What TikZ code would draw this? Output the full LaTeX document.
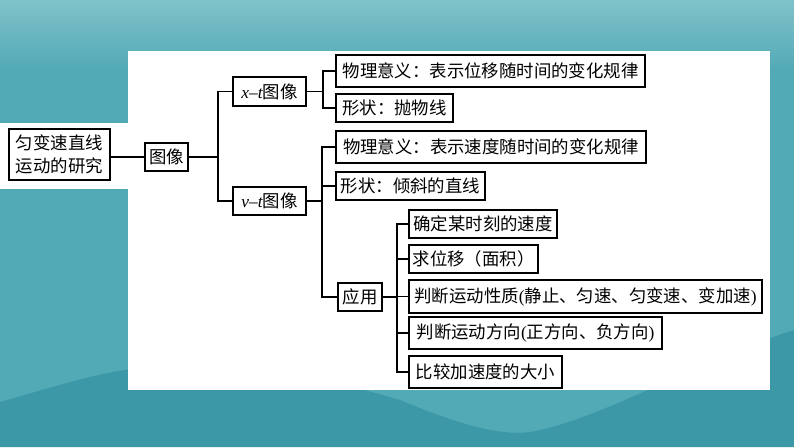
\documentclass[tikz,border=0pt]{standalone}
\usepackage{fontspec}
\setmainfont{Noto Sans CJK SC}
\newfontfamily\lat{Liberation Serif}
\usetikzlibrary{shadows}
\definecolor{bgtop}{HTML}{80C2CA}
\definecolor{bgmid}{HTML}{52AAB6}
\definecolor{bgdark}{HTML}{3C98A6}
\newcommand\cjkfs{\fontsize{17.4}{22.5}\selectfont}
\begin{document}
\begin{tikzpicture}[x=1pt,y=-1pt,
  bx/.style={draw=black, line width=1.1pt, fill=white, inner sep=0pt, font=\cjkfs,
    drop shadow={shadow xshift=1.2pt, shadow yshift=-1.2pt, fill=black!40, opacity=1}},
  ln/.style={line width=1.4pt, draw=black}]
\useasboundingbox (0,0) rectangle (794,447);
% background
\fill[bgmid] (0,0) rectangle (794,447);
\shade[top color=bgtop, bottom color=bgmid] (0,0) rectangle (794,70);
\fill[bgdark] (0,402) .. controls (60,385) and (100,372) .. (140,368)
  .. controls (260,360) and (330,380) .. (400,400)
  .. controls (460,425) and (500,436) .. (530,432)
  .. controls (600,420) and (700,360) .. (794,330) -- (794,447) -- (0,447) -- cycle;
% white panel
\fill[white] (128,51) rectangle (770,390);
\fill[white] (0,123) rectangle (128,189);
% nodes
\node[bx, minimum width=101pt, minimum height=51pt, align=center] (b0) at (59.5,154.5) {匀变速直线\\运动的研究};
\node[bx, minimum width=43pt, minimum height=28pt] (tu) at (166.5,157) {图像};
\node[bx, minimum width=73pt, minimum height=29pt] (xt) at (269.5,91.5) {{\lat\itshape x}{\lat –}{\lat\itshape t}图像};
\node[bx, minimum width=73pt, minimum height=28pt] (vt) at (269.5,201) {{\lat\itshape v}{\lat –}{\lat\itshape t}图像};
\node[bx, minimum width=309pt, minimum height=32pt] (x1) at (490.5,71) {物理意义：表示位移随时间的变化规律};
\node[bx, minimum width=117pt, minimum height=28pt] (x2) at (394.5,108) {形状：抛物线};
\node[bx, minimum width=310pt, minimum height=32pt] (v1) at (491,147) {物理意义：表示速度随时间的变化规律};
\node[bx, minimum width=149pt, minimum height=28pt] (v2) at (410.5,186) {形状：倾斜的直线};
\node[bx, minimum width=44pt, minimum height=28pt] (yy) at (360,297) {应用};
\node[bx, minimum width=148pt, minimum height=28pt] (a1) at (483,224) {确定某时刻的速度};
\node[bx, minimum width=129pt, minimum height=28pt] (a2) at (473.5,259) {求位移（面积）};
\node[bx, minimum width=353pt, minimum height=33pt] (a3) at (585.5,296.5) {判断运动性质{\lat(}静止、匀速、匀变速、变加速{\lat)}};
\node[bx, minimum width=253pt, minimum height=32pt] (a4) at (535.5,333) {判断运动方向{\lat(}正方向、负方向{\lat)}};
\node[bx, minimum width=153pt, minimum height=32pt] (a5) at (485.5,372) {比较加速度的大小};
% branch points
\coordinate (j0) at (218,157);
\coordinate (j1) at (323,91.5);
\coordinate (j2) at (322,201);
\coordinate (j3) at (397,297);
% connectors
\draw[ln] (b0.east |- tu.west) -- (tu.west);
\draw[ln] (tu.east) -- (j0);
\draw[ln] (xt.west) -| (j0) |- (vt.west);
\draw[ln] (xt.east) -- (j1);
\draw[ln] (x1.west) -| (j1) |- (x2.west);
\draw[ln] (vt.east) -- (j2);
\draw[ln] (v1.west) -| (j2) |- (yy.west);
\draw[ln] (j2 |- v2.west) -- (v2.west);
\draw[ln] (yy.east) -- (j3);
\draw[ln] (a1.west) -| (j3) |- (a5.west);
\draw[ln] (j3 |- a2.west) -- (a2.west);
\draw[ln] (j3 |- a3.west) -- (a3.west);
\draw[ln] (j3 |- a4.west) -- (a4.west);
\end{tikzpicture}
\end{document}
